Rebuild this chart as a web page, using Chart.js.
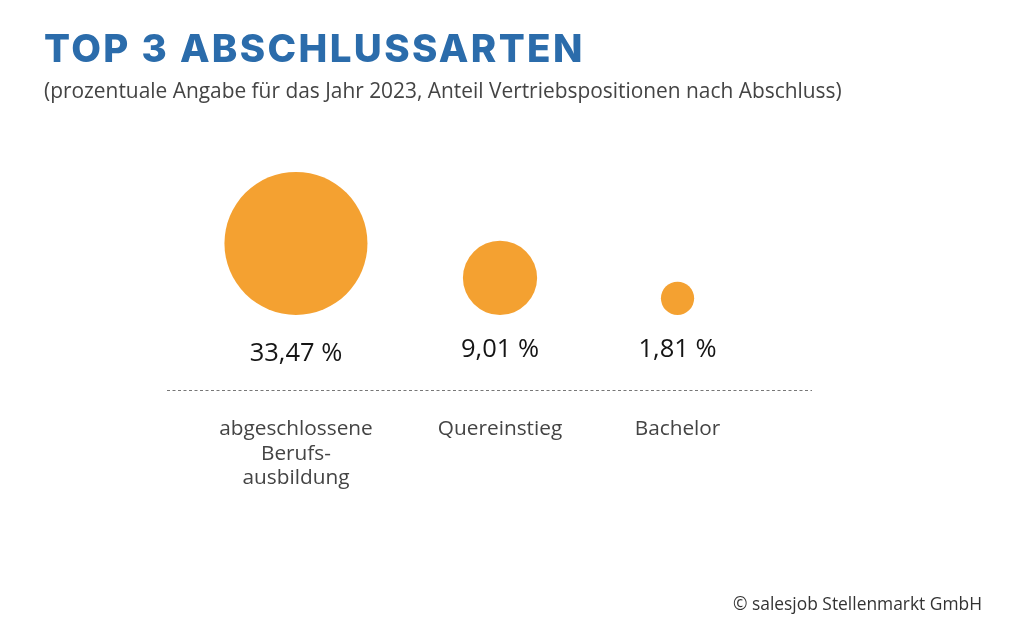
<!DOCTYPE html>
<html lang="de">
<head>
<meta charset="utf-8">
<title>Top 3 Abschlussarten</title>
<script src="https://cdn.jsdelivr.net/npm/chart.js@4/dist/chart.umd.min.js"></script>
<style>
  html, body { margin: 0; padding: 0; background: #fff; }
  #wrap { position: relative; width: 1024px; height: 640px; overflow: hidden; }
  #chart { position: absolute; left: 0; top: 0; }
  #title { position: absolute; left: 44px; top: 25px; margin: 0; font: 800 38.5px Inter, sans-serif; letter-spacing: 2.35px; color: #2b6cab; white-space: nowrap; }
  #subtitle { position: absolute; left: 44px; top: 76px; margin: 0; font: 400 20.9px "Open Sans", sans-serif; color: #444; white-space: nowrap; }
  #credit { position: absolute; right: 42px; top: 591px; margin: 0; font: 400 17.4px "Open Sans", sans-serif; color: #333; white-space: nowrap; }
</style>
</head>
<body>
<div id="wrap">
  <canvas id="chart" width="1024" height="640"></canvas>
  <h1 id="title">TOP 3 ABSCHLUSSARTEN</h1>
  <p id="subtitle">(prozentuale Angabe für das Jahr 2023, Anteil Vertriebspositionen nach Abschluss)</p>
  <p id="credit">© salesjob Stellenmarkt GmbH</p>
</div>
<script>
// Data
const categories = [['abgeschlossene', 'Berufs-', 'ausbildung'], ['Quereinstieg'], ['Bachelor']];
const shares = [33.47, 9.01, 1.81];
const shareLabels = ['33,47 %', '9,01 %', '1,81 %'];
const slots = [1, 2, 2.87];
const heights = [5.79, 3.0, 1.35];

// area of a bubble follows the share
const radiusPerRootPercent = 12.36;
const valueLabelY = [354, 350, 350];

const valueLabels = {
    id: 'valueLabels',
    afterDatasetsDraw(chart) {
        const ctx = chart.ctx;
        const points = chart.getDatasetMeta(0).data;
        ctx.save();
        ctx.font = '400 25.5px "Open Sans", sans-serif';
        ctx.fillStyle = '#151515';
        ctx.textAlign = 'center';
        ctx.textBaseline = 'middle';
        points.forEach((p, i) => ctx.fillText(shareLabels[i], p.x, valueLabelY[i]));
        ctx.restore();
    }
};

// the axis border itself can't be dashed, so stroke it here
const dashedAxis = {
    id: 'dashedAxis',
    beforeDatasetsDraw(chart) {
        const { ctx, chartArea } = chart;
        ctx.save();
        ctx.strokeStyle = '#777';
        ctx.lineWidth = 1;
        ctx.setLineDash([3, 2.5]);
        ctx.beginPath();
        ctx.moveTo(chartArea.left, chartArea.bottom + 0.5);
        ctx.lineTo(chartArea.right, chartArea.bottom + 0.5);
        ctx.stroke();
        ctx.restore();
    }
};

new Chart(document.getElementById('chart').getContext('2d'), {
    type: 'bubble',
    data: {
        datasets: [{
            data: shares.map((s, i) => ({ x: slots[i], y: heights[i], r: Math.sqrt(s) * radiusPerRootPercent })),
            backgroundColor: '#f4a131',
            borderWidth: 0,
            hoverRadius: 0
        }]
    },
    options: {
        responsive: false,
        animation: false,
        layout: { padding: { left: 167, right: 212, top: 100, bottom: 0 } },
        plugins: { legend: { display: false }, tooltip: { enabled: false } },
        scales: {
            x: {
                type: 'linear',
                min: 0.368,
                max: 3.529,
                afterBuildTicks(scale) { scale.ticks = slots.map(v => ({ value: v })); },
                afterFit(scale) { scale.height = 250; },
                grid: { display: false },
                border: { display: false },
                ticks: {
                    autoSkip: false,
                    maxRotation: 0,
                    padding: 19,
                    color: '#444',
                    font: { family: '"Open Sans", sans-serif', size: 20.8, lineHeight: 1.18 },
                    callback: (value, index) => categories[index]
                }
            },
            y: {
                display: false,
                min: -6.07,
                max: 17.39
            }
        }
    },
    plugins: [dashedAxis, valueLabels]
});
</script>
</body>
</html>
